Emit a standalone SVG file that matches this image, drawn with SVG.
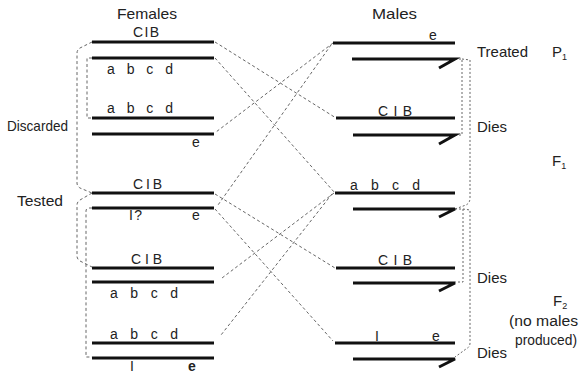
<svg xmlns="http://www.w3.org/2000/svg" width="580" height="373" viewBox="0 0 580 373">
<style>
.chr{stroke:#111;stroke-width:3;fill:none;stroke-linecap:butt}
.y{stroke:#111;stroke-width:3;fill:none;stroke-linejoin:miter}
.dash{stroke:#666;stroke-width:1;fill:none;stroke-dasharray:3,2.5}
.dot{stroke:#666;stroke-width:1;fill:none;stroke-dasharray:2,2}
text{font-family:"Liberation Sans",Arial,sans-serif;fill:#222}
.lbl{font-size:15px}
.sm{font-size:14px}
.g{font-size:14px}
.sub{font-size:9px}
</style>
<rect width="580" height="373" fill="#fff"/>

<!-- headings -->
<text class="lbl" x="117" y="19" textLength="60" lengthAdjust="spacingAndGlyphs">Females</text>
<text class="lbl" x="372" y="19" textLength="45" lengthAdjust="spacingAndGlyphs">Males</text>
<text class="lbl" x="7" y="131" textLength="61" lengthAdjust="spacingAndGlyphs">Discarded</text>
<text class="lbl" x="17" y="206" textLength="46" lengthAdjust="spacingAndGlyphs">Tested</text>

<!-- connectors -->
<g id="connectors">
  <!-- left brackets -->
  <path class="dash" d="M92,42 L80,48 Q77,50 77,53 L77,183 Q77,186 80,188 L92,193"/>
  <path class="dash" d="M92,58 L87,58 L87,118 L92,118"/>
  <path class="dash" d="M92,193 L80,200 Q77,202 77,205 L77,256 Q77,259 80,261 L92,267"/>
  <path class="dash" d="M92,208 L88,208 Q86,209 86,211 L86,357 L92,357"/>
  <!-- right brackets -->
  <path class="dot" d="M455,59 L462,59 L462,135 L455,135"/>
  <path class="dot" d="M462,59 L470,60 L470,198 Q470,203 466,205 L455,209"/>
  <path class="dot" d="M455,209 L463,209 L463,282 L455,282"/>
  <path class="dot" d="M463,209 L470,210 L470,343 Q470,347 466,349 L455,357"/>
  <!-- crossing lines -->
  <path class="dash" d="M215,42 L336,118"/>
  <path class="dash" d="M215,58 L335,193"/>
  <path class="dash" d="M333,43 L216,132"/>
  <path class="dash" d="M331,45 L218,205"/>
  <path class="dash" d="M215,194 L335,268"/>
  <path class="dash" d="M215,209 L333,341"/>
  <path class="dash" d="M334,193 L222,278"/>
  <path class="dash" d="M332,194 L221,335"/>
</g>

<!-- Female P1 -->
<g id="female-p1">
  <line class="chr" x1="92" y1="42" x2="214" y2="42"/>
  <line class="chr" x1="92" y1="58" x2="214" y2="58"/>
  <text class="g" x="133" y="37" textLength="26" lengthAdjust="spacing">CIB</text>
  <text class="g" x="107" y="74" textLength="66" lengthAdjust="spacing">a b c d</text>
</g>
<!-- Female F1 discarded -->
<g id="female-f1-discarded">
  <line class="chr" x1="92" y1="118" x2="214" y2="118"/>
  <line class="chr" x1="92" y1="134" x2="214" y2="134"/>
  <text class="g" x="107" y="113" textLength="66" lengthAdjust="spacing">a b c d</text>
  <text class="g" x="192" y="147">e</text>
</g>
<!-- Female F1 tested -->
<g id="female-f1-tested">
  <line class="chr" x1="92" y1="193" x2="214" y2="193"/>
  <line class="chr" x1="92" y1="208" x2="214" y2="208"/>
  <text class="g" x="133" y="189" textLength="29" lengthAdjust="spacing">CIB</text>
  <text class="g" x="129" y="220" textLength="13" lengthAdjust="spacing">I?</text>
  <text class="g" x="192" y="220">e</text>
</g>
<!-- Female F2 a -->
<g id="female-f2-a">
  <line class="chr" x1="92" y1="268" x2="214" y2="268"/>
  <line class="chr" x1="92" y1="282" x2="214" y2="282"/>
  <text class="g" x="131" y="264" textLength="31" lengthAdjust="spacing">CIB</text>
  <text class="g" x="110" y="298" textLength="68" lengthAdjust="spacing">a b c d</text>
</g>
<!-- Female F2 b -->
<g id="female-f2-b">
  <line class="chr" x1="92" y1="343" x2="214" y2="343"/>
  <line class="chr" x1="92" y1="358" x2="214" y2="358"/>
  <text class="g" x="110" y="339" textLength="68" lengthAdjust="spacing">a b c d</text>
  <text class="g" x="130" y="371">I</text>
  <text class="g" x="188" y="371" font-weight="bold">e</text>
</g>

<!-- Male P1 -->
<g id="male-p1">
  <line class="chr" x1="333" y1="43" x2="455" y2="43"/>
  <path class="y" d="M352,59 L455,59 L439,68"/>
  <text class="g" x="429" y="40">e</text>
</g>
<!-- Male F1 CIB -->
<g id="male-f1-cib">
  <line class="chr" x1="336" y1="118" x2="455" y2="118"/>
  <path class="y" d="M353,135 L455,135 L439,144"/>
  <text class="g" x="378" y="116" textLength="34" lengthAdjust="spacing">CIB</text>
</g>
<!-- Male F1 abcd -->
<g id="male-f1-abcd">
  <line class="chr" x1="335" y1="193" x2="455" y2="193"/>
  <path class="y" d="M353,209 L455,209 L439,217"/>
  <text class="g" x="350" y="190" textLength="70" lengthAdjust="spacing">a b c d</text>
</g>
<!-- Male F2 CIB -->
<g id="male-f2-cib">
  <line class="chr" x1="336" y1="268" x2="455" y2="268"/>
  <path class="y" d="M353,283 L455,283 L439,291"/>
  <text class="g" x="378" y="265" textLength="34" lengthAdjust="spacing">CIB</text>
</g>
<!-- Male F2 I e -->
<g id="male-f2-le">
  <line class="chr" x1="335" y1="343" x2="455" y2="343"/>
  <path class="y" d="M353,359 L455,359 L439,367"/>
  <text class="g" x="375" y="341">I</text>
  <text class="g" x="432" y="341">e</text>
</g>

<!-- right side labels -->
<g id="labels-right">
  <text class="lbl" x="477" y="57" textLength="51" lengthAdjust="spacingAndGlyphs">Treated</text>
  <text class="lbl" x="477" y="132" textLength="30" lengthAdjust="spacingAndGlyphs">Dies</text>
  <text class="lbl" x="477" y="283" textLength="30" lengthAdjust="spacingAndGlyphs">Dies</text>
  <text class="lbl" x="477" y="358" textLength="30" lengthAdjust="spacingAndGlyphs">Dies</text>
  <text class="lbl" x="552" y="57">P<tspan class="sub" dy="3">1</tspan></text>
  <text class="lbl" x="552" y="166">F<tspan class="sub" dy="3">1</tspan></text>
  <text class="lbl" x="553" y="306">F<tspan class="sub" dy="3">2</tspan></text>
  <text class="sm" x="509" y="326" textLength="69" lengthAdjust="spacingAndGlyphs">(no males</text>
  <text class="sm" x="515" y="345" textLength="62" lengthAdjust="spacingAndGlyphs">produced)</text>
</g>
</svg>
